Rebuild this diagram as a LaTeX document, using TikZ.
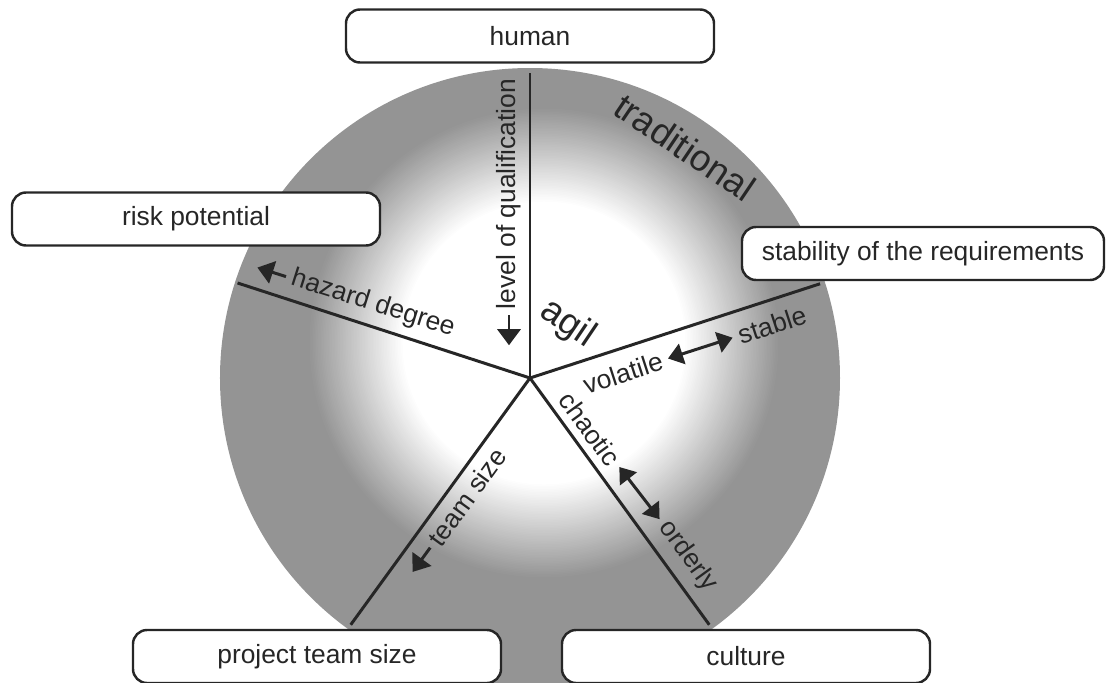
\documentclass[tikz,border=0pt]{standalone}
\usepackage{fontspec}
\setmainfont{Liberation Sans}
\usetikzlibrary{arrows.meta}
\definecolor{discgray}{RGB}{148,148,148}
\definecolor{ink}{RGB}{38,38,38}
\begin{document}
\begin{tikzpicture}[
    font=\fontsize{15}{18}\selectfont,
    factorbox/.style={draw=ink, line width=1.4pt, fill=white, rounded corners=0.28cm, minimum width=7.36cm, minimum height=1.06cm, text=ink},
    spoke/.style={draw=ink, line width=1.7pt},
    lbl/.style={text=ink},
    biglbl/.style={text=ink, font=\fontsize{21}{25}\selectfont},
    arr/.style={draw=ink, line width=1.7pt, -{Triangle[width=0.46cm,length=0.32cm]}},
    dblarr/.style={draw=ink, line width=1.7pt, {Triangle[width=0.42cm,length=0.3cm]}-{Triangle[width=0.42cm,length=0.3cm]}}
  ]
          \useasboundingbox (-10.6,-6.08) rectangle (11.54,7.56);
          % the disc, gray with a white core
          \fill[discgray] (0,0) circle (6.2);
          \foreach \i in {0,...,60} {
            \pgfmathsetmacro\rad{4.72-0.0315*\i}
            \pgfmathsetmacro\pct{100*\i/60}
            \fill[white!\pct!discgray] (0.28,0.7) circle (\rad);
          }
          % five spokes
          \coordinate (hub) at (0,0);
          \coordinate (rimhuman) at (90:6.1);
          \coordinate (rimrisk) at (162:6.15);
          \coordinate (rimstab) at (18:6.1);
          \coordinate (rimteam) at (234:6.1);
          \coordinate (rimcult) at (306:6.1);
          \draw[spoke] (hub) -- (rimhuman);
          \draw[spoke] (hub) -- (rimrisk);
          \draw[spoke] (hub) -- (rimstab);
          \draw[spoke] (hub) -- (rimteam);
          \draw[spoke] (hub) -- (rimcult);
          % labels along the spokes
          \node[lbl, rotate=90] (qual) at (-0.42,3.68) {level of qualification};
          \node[lbl, rotate=-17.5] (hazard) at (-3.14,1.48) {hazard degree};
          \node[lbl, rotate=18] (stable) at (4.84,1.06) {stable};
          \node[lbl, rotate=18] (volatile) at (1.86,0.10) {volatile};
          \node[lbl, rotate=-54] (chaotic) at (1.20,-1.02) {chaotic};
          \node[lbl, rotate=-54] (orderly) at (3.16,-3.56) {orderly};
          \node[lbl, rotate=54] (teamsize) at (-1.26,-2.38) {team size};
          \node[biglbl, rotate=-34] (agil) at (0.76,1.08) {agil};
          \node[biglbl, rotate=-34] (trad) at (3.10,4.62) {traditional};
          % and the arrows
          \draw[arr] (qual.west) -- ++(0,-0.6);
          \draw[arr] (hazard.west) -- ++(162.5:0.6);
          \draw[arr] (teamsize.west) -- ++(234:0.6);
          \draw[dblarr] (volatile) -- (stable);
          \draw[dblarr] (chaotic) -- (orderly);
          % five boxes
          \node[factorbox] (human) at (0,6.84) {human};
          \node[factorbox] (risk) at (-6.68,3.18) {risk potential};
          \node[factorbox, minimum width=7.24cm] (stability) at (7.86,2.49) {stability of the requirements};
          \node[factorbox] (team) at (-4.26,-5.57) {project team size};
          \node[factorbox] (culture) at (4.32,-5.57) {culture};
        \end{tikzpicture}
\end{document}
